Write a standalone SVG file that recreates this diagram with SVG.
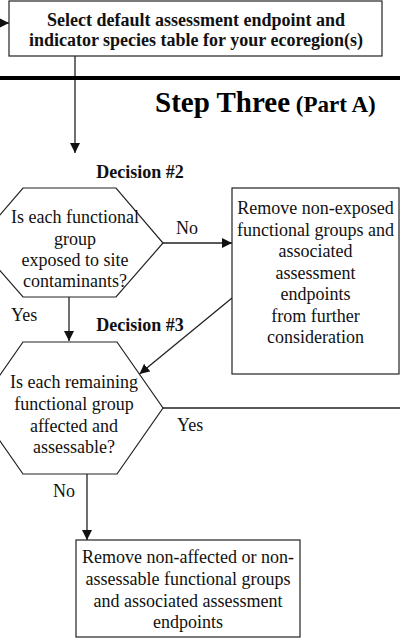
<svg xmlns="http://www.w3.org/2000/svg" width="400" height="639" viewBox="0 0 400 639">
<defs>
<style>
.box{fill:#fff;stroke:#222;stroke-width:1.2}
.t{font-family:"Liberation Serif","Times New Roman",serif;font-size:18px;fill:#111;text-anchor:middle}
.b{font-weight:bold}
.l{font-family:"Liberation Serif","Times New Roman",serif;font-size:18px;fill:#111}
.c{fill:none;stroke:#222;stroke-width:1.3}
</style>
<marker id="ah" viewBox="0 0 10 10" refX="10" refY="5" markerWidth="10" markerHeight="10" markerUnits="userSpaceOnUse" orient="auto">
<path d="M0,0 L10,5 L0,10 Z" fill="#111"/>
</marker>
</defs>
<rect width="400" height="639" fill="#fff"/>
<g id="connectors">
<line class="c" x1="-2" y1="23" x2="9" y2="23" marker-end="url(#ah)"/>
<line class="c" x1="75" y1="56" x2="75" y2="153" marker-end="url(#ah)"/>
<line class="c" x1="163" y1="243" x2="232" y2="243" marker-end="url(#ah)"/>
<line class="c" x1="69" y1="297" x2="69" y2="341" marker-end="url(#ah)"/>
<line class="c" x1="232" y1="298" x2="139.5" y2="374" marker-end="url(#ah)"/>
<line class="c" x1="163" y1="408" x2="402" y2="408"/>
<line class="c" x1="87" y1="474" x2="87" y2="540" marker-end="url(#ah)"/>
</g>
<line x1="0" y1="78" x2="400" y2="78" stroke="#000" stroke-width="4"/>
<g id="select-box">
<rect class="box" x="9" y="1" width="373" height="55"/>
<text class="t b" x="196" y="26">Select default assessment endpoint and</text>
<text class="t b" x="196" y="46">indicator species table for your ecoregion(s)</text>
</g>
<g id="title">
<text font-family="'Liberation Serif','Times New Roman',serif" font-weight="bold" fill="#000" x="155" y="112"><tspan font-size="29px">Step Three</tspan><tspan font-size="23px"> (Part A)</tspan></text>
</g>
<g id="decision2">
<text class="t b" x="140" y="178">Decision #2</text>
<polygon class="box" points="-24,243 23,188 116,188 163,243 116,297 23,297"/>
<text class="t" x="75" y="223">Is each functional</text>
<text class="t" x="75" y="245">group</text>
<text class="t" x="75" y="266">exposed to site</text>
<text class="t" x="75" y="287">contaminants?</text>
</g>
<g id="remove-exposed">
<rect class="box" x="232" y="188" width="167" height="186"/>
<text class="t" x="315.5" y="214">Remove non-exposed</text>
<text class="t" x="315.5" y="235.5">functional groups and</text>
<text class="t" x="315.5" y="257">associated</text>
<text class="t" x="315.5" y="278.5">assessment</text>
<text class="t" x="315.5" y="300">endpoints</text>
<text class="t" x="315.5" y="321.5">from further</text>
<text class="t" x="315.5" y="343">consideration</text>
</g>
<g id="decision3">
<text class="t b" x="140" y="331">Decision #3</text>
<polygon class="box" points="-23,408 23,342 117,342 163,408 117,474 23,474"/>
<text class="t" x="74" y="388">Is each remaining</text>
<text class="t" x="74" y="410">functional group</text>
<text class="t" x="74" y="432">affected and</text>
<text class="t" x="74" y="453">assessable?</text>
</g>
<g id="remove-affected">
<rect class="box" x="76" y="540" width="224" height="97"/>
<text class="t" x="188" y="563">Remove non-affected or non-</text>
<text class="t" x="188" y="585">assessable functional groups</text>
<text class="t" x="188" y="607">and associated assessment</text>
<text class="t" x="188" y="628">endpoints</text>
</g>
<g id="labels">
<text class="l" x="176" y="234">No</text>
<text class="l" x="11" y="321">Yes</text>
<text class="l" x="177" y="431">Yes</text>
<text class="l" x="53" y="497">No</text>
</g>
</svg>
